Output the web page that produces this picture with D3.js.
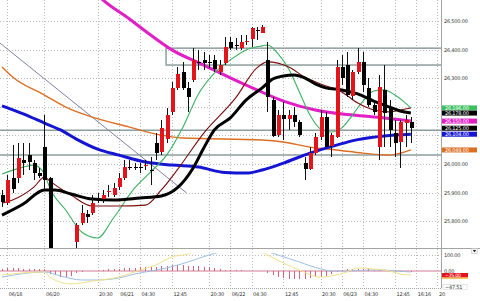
<!DOCTYPE html>
<html>
<head>
<meta charset="utf-8">
<script src="https://cdn.jsdelivr.net/npm/d3@7"></script>
<style>
  body { margin: 0; background: #fff; }
  svg { display: block; }
</style>
</head>
<body>
<div id="chart"></div>
<script>
// candles, one per bar (index = bar number)
const opens = [25890,25865,25950,25950,26015,26030,26005,25970,26060,25950,
  25700,25655,25680,25650,25725,25795,25825,25830,25875,25875,
  25900,25890,25920,25950,25990,25990,25990,25990,25980,26075,
  26040,26085,26180,26265,26320,26265,26295,26355,26365,26355,
  26365,26320,26355,26425,26415,26405,26425,26435,26470,26460,
  26365,26225,26100,26170,26155,26170,26145,26005,25985,26040,
  26095,26165,26060,26095,26340,26345,26235,26320,26355,26265,
  26205,26060,26260,26200,26110,26075,26145,26145];
const highs = [25910,25960,26065,26075,26075,26075,26015,25985,26170,25955,
  25705,25695,25700,25705,25795,25855,25840,25890,25900,25910,
  25925,25935,25970,26015,26015,26005,26005,26015,26025,26110,
  26155,26195,26285,26340,26355,26285,26405,26400,26390,26380,
  26380,26365,26445,26445,26440,26450,26450,26480,26480,26485,
  26425,26235,26190,26215,26190,26200,26155,26025,26060,26110,
  26190,26180,26110,26365,26380,26390,26330,26405,26390,26300,
  26215,26310,26345,26225,26155,26155,26170,26165];
const lows = [25850,25855,25900,25935,25960,25980,25945,25950,25910,25680,
  25640,25630,25640,25640,25705,25785,25795,25820,25865,25865,
  25885,25885,25910,25945,25980,25980,25970,25980,25925,26015,
  26030,26075,26170,26260,26260,26180,26285,26330,26330,26335,
  26320,26310,26345,26400,26400,26400,26415,26410,26435,26460,
  26180,26095,26095,26085,26120,26130,26095,25945,25980,26030,
  26085,26060,26025,26090,26275,26235,26225,26315,26250,26200,
  26170,26015,26060,26060,26025,25985,26060,26075];
const closes = [25865,25945,25910,26020,26005,26005,25970,25960,25945,25690,
  25660,25680,25650,25690,25785,25830,25815,25865,25870,25890,
  25905,25915,25950,25990,25985,25990,25985,25995,25980,26040,
  26125,26170,26265,26315,26265,26235,26365,26355,26355,26355,
  26335,26345,26410,26405,26415,26425,26430,26475,26470,26480,
  26235,26100,26170,26155,26170,26145,26100,25985,26040,26095,
  26165,26060,26100,26340,26300,26240,26320,26355,26275,26205,
  26180,26270,26180,26120,26075,26145,26155,26125];

// moving averages as [bar, price]
const maMagenta = [[14,26672],[19,26574],[24,26507],[28,26451],[32,26399],[38,26346],[43,26301],
  [48,26259],[53,26220],[59,26189],[66,26171],[72,26161],[77,26150]];
const maBlue = [[0,26203],[4,26175],[8,26143],[11,26119],[14,26087],[18,26052],[22,26031],[27,26007],
  [32,25996],[37,25989],[42,25970],[46,25968],[49,25979],[53,26003],[58,26038],[63,26066],
  [67,26085],[72,26098],[77,26104]];
const maOrange = [[0,26339],[2,26304],[8,26241],[12,26199],[17,26164],[24,26129],[30,26101],[34,26091],
  [49,26084],[53,26077],[58,26059],[63,26049],[68,26038],[73,26031],[77,26049]];
const maBlack = [[0,25821],[4,25860],[8,25909],[10,25909],[13,25895],[17,25877],[21,25874],[26,25881],
  [30,25888],[33,25916],[36,25986],[38,26056],[40,26119],[43,26161],[46,26224],[49,26266],
  [51,26297],[53,26308],[55,26311],[57,26301],[59,26280],[61,26266],[64,26259],[67,26245],
  [70,26220],[73,26199],[75,26185],[77,26178]];
const maMaroon = [[0,25863],[2,25874],[6,25919],[8,25954],[9,25940],[13,25891],[17,25853],[22,25853],
  [27,25856],[30,25909],[33,25979],[38,26108],[44,26231],[48,26336],[50,26357],[54,26339],
  [57,26304],[60,26280],[64,26252],[67,26213],[70,26189],[73,26182],[75,26189],[77,26196]];
const maGreen = [[0,25965],[4,25989],[6,25996],[8,25965],[9,25916],[12,25839],[15,25762],[18,25741],
  [21,25811],[25,25916],[28,25972],[31,26031],[34,26126],[37,26245],[40,26318],[43,26364],
  [46,26399],[49,26413],[50,26416],[52,26385],[54,26332],[56,26252],[58,26171],[60,26122],
  [62,26112],[64,26126],[66,26171],[68,26220],[70,26255],[72,26259],[74,26241],[76,26213],[77,26196]];

// drawn objects
const trendLine = [[-0.4,26423],[34.8,25898]];
const hLevels = [26118, 26031];
const zoneStart = 30.9, zoneTop = 26405, zoneBottom = 26346;

// oscillator pane
const oscHist = [15,19,19,19,15,15,12,12,10,
  -19,-25,-38,-38,-31,-12,-6,-3,0,
  3,6,10,12,15,18,18,19,22,25,25,
  28,31,34,37,37,37,34,34,31,28,22,
  16,12,9,6,6,4,3,2,2,2,
  -12,-25,-37,-44,-48,-48,-48,-48,-46,-40,
  -37,-31,-19,-6,6,10,12,15,12,10,
  8,6,6,3,-3,-6,-6,-6];
const oscYellow = [[0,-25],[8,-6],[9,-38],[13,-81],[17,-63],[22,-38],[26,6],[29,38],[32,88],[35,106],
  [38,150],[43,170],[47,140],[50,100],[53,50],[56,6],[60,-38],[62,-31],[65,-6],[67,19],
  [70,13],[73,0],[75,-19],[77,-25]];
const oscBlue = [[0,-38],[8,-6],[11,-31],[15,-56],[18,-56],[22,-44],[25,-19],[28,0],[31,19],[35,56],
  [39,100],[42,125],[46,135],[50,120],[52,100],[56,56],[60,13],[62,0],[65,0],[69,6],
  [72,6],[74,0],[77,-6]];
const oscMin = -47.51;

// axis ticks
const priceTicks = [25800, 25900, 26000, 26100, 26200, 26300, 26400, 26500];
const oscTicks = [100, 0];
const xTickIdx = [1, 8, 18, 22, 26, 32, 39, 43, 47, 53, 60, 64, 68, 74, 78, 82];
const xTickLabels = ["06/18","06/20","20:30","06/21","04:30","12:45","20:30","06/22",
  "04:30","12:45","20:30","06/23","04:30","12:45","16:16","20:30"];

// layout
const W = 480, H = 301;
const plotRight = 441, mainBottom = 248, oscBottom = 288;
const fmt = d3.format(",.2f");

const x = d3.scaleLinear().domain([0, 82]).range([2, 437.4]);
const y = d3.scaleLinear().domain([25709.5, 26573.5]).range([247, 0]);
const yOsc = d3.scaleLinear().domain([0, 100]).range([271, 255]);

const svg = d3.select("#chart").append("svg")
  .attr("width", W).attr("height", H)
  .attr("font-family", "'DejaVu Sans', sans-serif");

const defs = svg.append("defs");
defs.append("clipPath").attr("id", "clipMain")
  .append("rect").attr("x", 0).attr("y", 0).attr("width", plotRight).attr("height", mainBottom);
defs.append("clipPath").attr("id", "clipOsc")
  .append("rect").attr("x", 0).attr("y", 253).attr("width", plotRight).attr("height", oscBottom - 253);
defs.append("clipPath").attr("id", "clipTime")
  .append("rect").attr("x", 0).attr("y", 288).attr("width", 445.5).attr("height", 13);

const px = v => Math.round(v) + 0.5;

// grid
const grid = svg.append("g")
  .attr("stroke", "#bcbcbc")
  .attr("stroke-dasharray", "1,2")
  .attr("shape-rendering", "crispEdges");
grid.selectAll("line.v").data(xTickIdx).join("line")
  .attr("class", "v")
  .attr("x1", d => px(x(d))).attr("x2", d => px(x(d)))
  .attr("y1", 0).attr("y2", oscBottom);
grid.selectAll("line.h").data(priceTicks).join("line")
  .attr("class", "h")
  .attr("x1", 0).attr("x2", plotRight)
  .attr("y1", d => px(y(d))).attr("y2", d => px(y(d)));
grid.append("line")
  .attr("x1", 0).attr("x2", plotRight)
  .attr("y1", px(yOsc(100))).attr("y2", px(yOsc(100)));

// main pane
const main = svg.append("g").attr("clip-path", "url(#clipMain)");

// horizontal levels and zone
main.selectAll("line.level").data(hLevels).join("line")
  .attr("class", "level")
  .attr("x1", 0).attr("x2", plotRight)
  .attr("y1", d => y(d)).attr("y2", d => y(d))
  .attr("stroke", "#8c9e9e").attr("stroke-width", 1.5);
main.append("rect")
  .attr("x", x(zoneStart)).attr("y", y(zoneTop))
  .attr("width", plotRight + 5 - x(zoneStart)).attr("height", y(zoneBottom) - y(zoneTop))
  .attr("fill", "none").attr("stroke", "#8c9e9e").attr("stroke-width", 1.5);

const line = d3.line().x(d => x(d[0])).y(d => y(d[1])).curve(d3.curveMonotoneX);

main.append("path").datum(trendLine)
  .attr("d", d3.line().x(d => x(d[0])).y(d => y(d[1])))
  .attr("fill", "none").attr("stroke", "#8080a6").attr("stroke-width", 1);

const maStyles = [
  { data: maOrange, color: "#dc6e22", width: 1.4 },
  { data: maBlue, color: "#1414d2", width: 3 },
  { data: maMagenta, color: "#e21ec6", width: 3 },
  { data: maGreen, color: "#3cb060", width: 1.1 },
  { data: maMaroon, color: "#7a0c0c", width: 1.1 },
  { data: maBlack, color: "#000000", width: 3 }
];
main.selectAll("path.ma").data(maStyles).join("path")
  .attr("class", "ma")
  .attr("d", d => line(d.data))
  .attr("fill", "none")
  .attr("stroke", d => d.color)
  .attr("stroke-width", d => d.width)
  .attr("stroke-linejoin", "round");

// candles
const bars = d3.range(opens.length);
const candle = main.append("g").attr("shape-rendering", "crispEdges");
candle.selectAll("line.wick").data(bars).join("line")
  .attr("class", "wick")
  .attr("x1", i => px(x(i))).attr("x2", i => px(x(i)))
  .attr("y1", i => y(highs[i])).attr("y2", i => y(lows[i]))
  .attr("stroke", "#111").attr("stroke-width", 1);
candle.selectAll("rect.body").data(bars).join("rect")
  .attr("class", "body")
  .attr("x", i => Math.round(x(i)) - 1.5)
  .attr("y", i => Math.round(y(Math.max(opens[i], closes[i]))))
  .attr("width", 4)
  .attr("height", i => Math.max(1, Math.round(Math.abs(y(opens[i]) - y(closes[i])))))
  .attr("fill", i => closes[i] > opens[i] ? "#e3141c" : "#000");

// oscillator pane
const osc = svg.append("g").attr("clip-path", "url(#clipOsc)");
osc.append("line")
  .attr("x1", 0).attr("x2", plotRight)
  .attr("y1", yOsc(0)).attr("y2", yOsc(0))
  .attr("stroke", "#d27a92").attr("stroke-width", 1);
osc.selectAll("line.hist").data(bars).join("line")
  .attr("class", "hist")
  .attr("x1", i => px(x(i))).attr("x2", i => px(x(i)))
  .attr("y1", yOsc(0)).attr("y2", i => yOsc(oscHist[i]))
  .attr("stroke", "#d0647e").attr("stroke-width", 1)
  .attr("shape-rendering", "crispEdges");
const oscLine = d3.line().x(d => x(d[0])).y(d => yOsc(d[1])).curve(d3.curveMonotoneX);
osc.append("path").datum(oscBlue).attr("d", oscLine)
  .attr("fill", "none").attr("stroke", "#9cc0e2").attr("stroke-width", 1);
osc.append("path").datum(oscYellow).attr("d", oscLine)
  .attr("fill", "none").attr("stroke", "#f2e08a").attr("stroke-width", 1);

// frame lines
const frame = svg.append("g").attr("stroke", "#a4a4a4").attr("shape-rendering", "crispEdges");
frame.append("line").attr("x1", plotRight + 0.5).attr("x2", plotRight + 0.5).attr("y1", 0).attr("y2", oscBottom);
frame.append("line").attr("x1", 0).attr("x2", W).attr("y1", mainBottom + 0.5).attr("y2", mainBottom + 0.5);
frame.append("line").attr("x1", 0).attr("x2", plotRight).attr("y1", oscBottom + 0.5).attr("y2", oscBottom + 0.5)
  .attr("stroke-dasharray", "1,1");

// current value tags on the price axis
const tags = [
  { v: maGreen[maGreen.length - 1][1], fill: "#3cc060" },
  { v: maBlack[maBlack.length - 1][1], fill: "#000" },
  { v: maMagenta[maMagenta.length - 1][1], fill: "#e21ec6" },
  { v: closes[closes.length - 1], fill: "#000" },
  { v: maBlue[maBlue.length - 1][1], fill: "#1414d2" },
  { v: maOrange[maOrange.length - 1][1], fill: "#dc6e22" }
];

// price axis (labels hidden where a tag sits on them)
const labelTicks = priceTicks.filter(p => !tags.some(t => Math.abs(y(t.v) - y(p)) < 4));

const styleAxis = g => g
  .attr("font-size", 5)
  .attr("font-family", "'DejaVu Sans', sans-serif")
  .call(g => g.select(".domain").remove())
  .call(g => g.selectAll("text").attr("fill", "#333").attr("letter-spacing", "-0.2"));

svg.append("g")
  .attr("transform", `translate(${plotRight},0)`)
  .call(d3.axisRight(y).tickValues(labelTicks).tickFormat(fmt).tickSize(0).tickPadding(3))
  .call(styleAxis);

svg.append("g")
  .attr("transform", `translate(${plotRight},0)`)
  .call(d3.axisRight(yOsc).tickValues(oscTicks).tickFormat(fmt).tickSize(0).tickPadding(3))
  .call(styleAxis);

const tag = svg.append("g");
tag.selectAll("rect").data(tags).join("rect")
  .attr("x", plotRight + 1).attr("y", d => y(d.v) - 2.5)
  .attr("width", 35).attr("height", 5)
  .attr("fill", d => d.fill);
tag.selectAll("text").data(tags).join("text")
  .attr("x", plotRight + 4).attr("y", d => y(d.v) + 1.8)
  .attr("font-size", 5).attr("letter-spacing", "-0.2")
  .attr("fill", "#fff")
  .text(d => fmt(d.v));

// oscillator tags
const oscLast = oscYellow[oscYellow.length - 1][1];
svg.append("rect")
  .attr("x", plotRight + 1).attr("y", 273)
  .attr("width", 26).attr("height", 4.5).attr("fill", "#e3141c");
svg.append("rect")
  .attr("x", plotRight + 1).attr("y", 277.5)
  .attr("width", 26).attr("height", 1.2).attr("fill", "#f0b020");
svg.append("text")
  .attr("x", plotRight + 4).attr("y", 276.8)
  .attr("font-size", 4.6).attr("fill", "#fff").attr("letter-spacing", "-0.2")
  .text(fmt(oscLast));
svg.append("rect")
  .attr("x", plotRight + 2).attr("y", oscBottom - 3.5)
  .attr("width", 24).attr("height", 5)
  .attr("fill", "#fff").attr("stroke", "#ccc").attr("stroke-width", 0.5);
svg.append("text")
  .attr("x", plotRight + 4).attr("y", oscBottom + 0.5)
  .attr("font-size", 5).attr("fill", "#333").attr("letter-spacing", "-0.2")
  .text(fmt(oscMin));

// pane menu button
svg.append("rect")
  .attr("x", 471.5).attr("y", 248.5).attr("width", 6).attr("height", 5)
  .attr("fill", "#f2f2f2").attr("stroke", "#bbb").attr("stroke-width", 0.5);
svg.append("path")
  .attr("d", "M472.8,250 L476.2,250 L474.5,252.3 Z")
  .attr("fill", "#222");

// time axis
svg.append("g")
  .attr("clip-path", "url(#clipTime)")
  .append("g")
  .attr("transform", `translate(0,${oscBottom + 1})`)
  .call(d3.axisBottom(x).tickValues(xTickIdx).tickFormat((d, i) => xTickLabels[i]).tickSize(0).tickPadding(3.5))
  .call(styleAxis)
  .call(g => g.selectAll("text").attr("text-anchor", "start").attr("dx", "1"));
</script>
</body>
</html>
